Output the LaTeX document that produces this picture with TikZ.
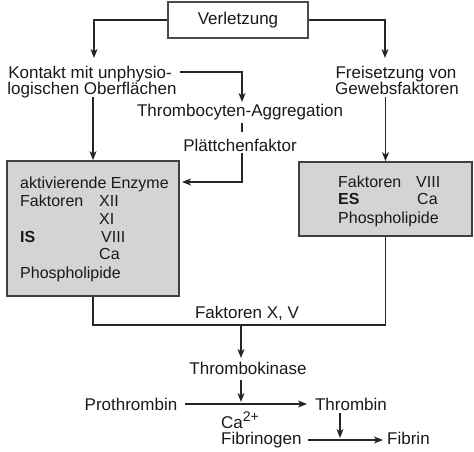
\documentclass[tikz,border=0pt]{standalone}
\usepackage{fontspec}
\setmainfont{Liberation Sans}
\usetikzlibrary{arrows.meta}
\begin{document}
\begin{tikzpicture}[x=1pt,y=-1pt,
  every node/.style={font=\fontsize{17}{18}\selectfont, inner sep=0pt, text=black!90},
  conn/.style={draw=black!85, line width=1.2pt},
  arr/.style={conn, -{Stealth[length=9pt,width=7pt,inset=2.5pt]}},
  graybox/.style={draw=black!75, line width=1.7pt, fill=black!17},
  txt/.style={anchor=base west, font=\fontsize{16}{18}\selectfont},
  ctxt/.style={anchor=base}]
\useasboundingbox (0,0) rectangle (474,452);
% boxes
\node[draw=black!70, line width=1.8pt, fill=white, minimum width=140pt, minimum height=36pt] (verl) at (238,20) {Verletzung};
\node[graybox, minimum width=172pt, minimum height=135pt] (lbox) at (93,228.5) {};
\node[graybox, minimum width=173pt, minimum height=74pt] (rbox) at (385.5,199) {};
% text nodes
\node[ctxt] (kon1) at (90,78) {Kontakt mit unphysio-};
\node[ctxt] (kon2) at (92,95) {logischen Oberflächen};
\node[ctxt] (fre1) at (396,78) {Freisetzung von};
\node[ctxt] (fre2) at (397,95) {Gewebsfaktoren};
\node[ctxt] (aggr) at (240,116) {Thrombocyten-Aggregation};
\node[ctxt] (pla) at (240,151) {Plättchenfaktor};
% left box content
\node[txt] (l1) at (20,188) {aktivierende Enzyme};
\node[txt] (l2) at (20,206) {Faktoren};
\node[txt] (l2b) at (99,206) {XII};
\node[txt] (l3b) at (99,224) {XI};
\node[txt] (l4) at (20,242) {\bfseries IS};
\node[txt] (l4b) at (101,242) {VIII};
\node[txt] (l5b) at (99,259) {Ca};
\node[txt] (l6) at (20,278) {Phospholipide};
% right box content
\node[txt] (r1) at (338,187) {Faktoren};
\node[txt] (r1b) at (416,187) {VIII};
\node[txt] (r2) at (338,204) {\bfseries ES};
\node[txt] (r2b) at (417,204) {Ca};
\node[txt] (r3) at (338,223) {Phospholipide};
% lower part
\node[ctxt] (fxv) at (247,318) {Faktoren X, V};
\node[ctxt] (tk) at (248,374) {Thrombokinase};
\node[ctxt] (proth) at (131,410) {Prothrombin};
\node[ctxt] (thr) at (351,410) {Thrombin};
\node[anchor=base west] (ca) at (221,428) {Ca\raisebox{7pt}{\fontsize{14}{14}\selectfont 2+}};
\node[anchor=base west] (fibg) at (221,444) {Fibrinogen};
\node[anchor=base west] (fib) at (387,444) {Fibrin};
% coordinates
\coordinate (kA) at (94,58);
\coordinate (fA) at (385,58);
\coordinate (k1e) at (180,72);
\coordinate (aggA) at (242,102);
\coordinate (lenA) at (182,182);
\coordinate (bl) at (93,325);
\coordinate (br) at (385.5,325);
\coordinate (mid) at (241,325);
\coordinate (tkA) at (241,358);
\coordinate (tkB) at (241,380);
\coordinate (hA) at (241,402);
\coordinate (pe) at (185,404);
\coordinate (te) at (307,404);
\coordinate (thB) at (340,413);
\coordinate (thA) at (340,438);
\coordinate (fge) at (308,440);
\coordinate (fbe) at (383,440);
% connectors
\draw[arr] (verl.west) -| (kA);
\draw[arr] (verl.east) -| (fA);
\draw[arr] (k1e) -| (aggA);
\draw[arr] (lbox.north |- 0,97) -- (lbox.north);
\draw[arr] (rbox.north |- 0,97) -- (rbox.north);
\draw[conn] (242,123) -- (242,132);
\draw[arr] (242,153) |- (lenA);
\draw[conn] (lbox.south) -- (bl) -- (br) -- (rbox.south);
\draw[arr] (mid) -- (tkA);
\draw[arr] (tkB) -- (hA);
\draw[arr] (pe) -- (te);
\draw[arr] (thB) -- (thA);
\draw[arr] (fge) -- (fbe);
\end{tikzpicture}
\end{document}
